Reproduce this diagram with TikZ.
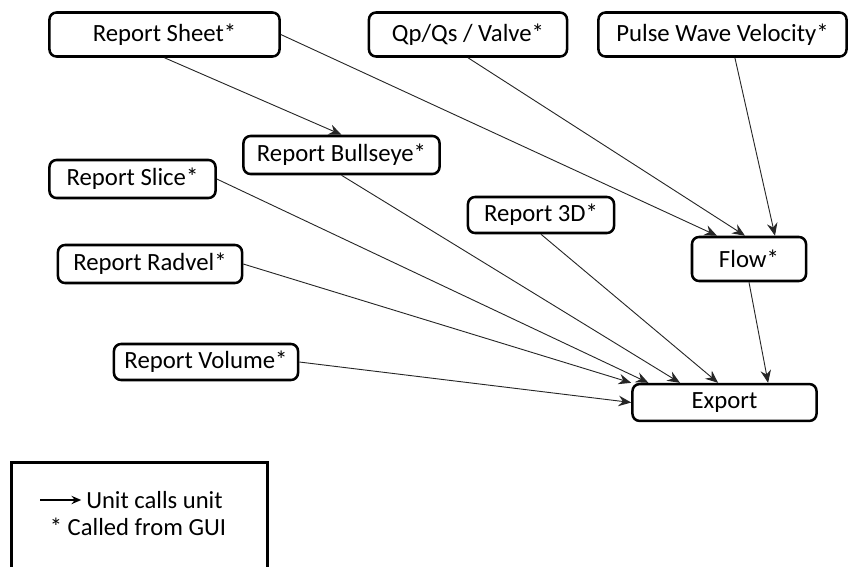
\documentclass[tikz,border=0pt]{standalone}
\usepackage{fontspec}
\setmainfont{Carlito}
\usetikzlibrary{
    arrows.meta,
    positioning,
    calc,
}

\begin{document}
\begin{tikzpicture}[
    x=0.025cm, y=-0.025cm,
    unit/.style={draw, line width=1.8pt, rounded corners=5pt, fill=white,
    text=black, font=\fontsize{17.6}{21}\selectfont, minimum height=1.1cm,
    inner sep=0pt},
    calls/.style={-{Stealth[length=9pt, width=7.5pt, inset=3pt]},
    draw=black!85, line width=0.65pt},
    legendtext/.style={font=\fontsize{17.5}{21}\selectfont, inner sep=0pt},
]

\clip (0,0) rectangle (851,567);

% TOP ROW
\node[unit, minimum width=5.75cm] at (164.5,34.5) (sheet) {Report Sheet*};
\node[unit, minimum width=4.95cm] at (468,34.5) (qpqs) {Qp/Qs / Valve*};
\node[unit, minimum width=6.2cm] at (722.5,34.5) (pwv) {Pulse Wave Velocity*};

% REPORTS
\node[unit, minimum width=4.9cm, minimum height=0.95cm] at (341.5,155) (bullseye) {Report Bullseye*};
\node[unit, minimum width=4.15cm, minimum height=0.95cm] at (132.5,179) (slice) {Report Slice*};
\node[unit, minimum width=4.6cm, minimum height=0.95cm] at (150,264) (radvel) {Report Radvel*};
\node[unit, minimum width=4.6cm, minimum height=0.9cm] at (206,362) (volume) {Report Volume*};
\node[unit, minimum width=3.65cm, minimum height=0.9cm] at (541,215) (threed) {Report 3D*};

% FLOW AND EXPORT
\node[unit, minimum width=2.85cm, minimum height=1.1cm] at (749,259) (flow) {Flow*};
\node[unit, minimum width=4.6cm, minimum height=0.92cm] at (724.5,402.5) (export) {Export};

% CALLS
\draw[calls] (sheet.south) -- (bullseye.north);
\draw[calls] (sheet.east) -- ([xshift=-0.8cm]flow.north);
\draw[calls] (qpqs.south) -- ([xshift=-0.1cm]flow.north);
\draw[calls] ([xshift=0.31cm]pwv.south) -- ([xshift=0.65cm]flow.north);

\draw[calls] (radvel.east) -- (export.north west);
\draw[calls] (slice.east) -- ([xshift=0.43cm]export.north west);
\draw[calls] (bullseye.south) -- ([xshift=1.22cm]export.north west);
\draw[calls] (threed.south) -- ([xshift=-0.16cm]export.north);
\draw[calls] (flow.south) -- ([xshift=1.09cm]export.north);
\draw[calls] (volume.east) -- (export.west);

% LEGEND
\node[draw, line width=1.8pt, minimum width=6.4cm, minimum height=3.2cm,
    anchor=north west] at (10,461) (legend) {};
\node[legendtext, anchor=west] at (86,500) (leg_calls) {Unit calls unit};
\coordinate (leg_from) at (40,500);
\draw[-{Stealth[length=7pt, width=6pt, inset=2.5pt]}, line width=0.8pt]
    (leg_from) -- ([xshift=-0.12cm]leg_calls.west);
\node[legendtext] at (138,527) (leg_gui) {* Called from GUI};

\end{tikzpicture}
\end{document}
